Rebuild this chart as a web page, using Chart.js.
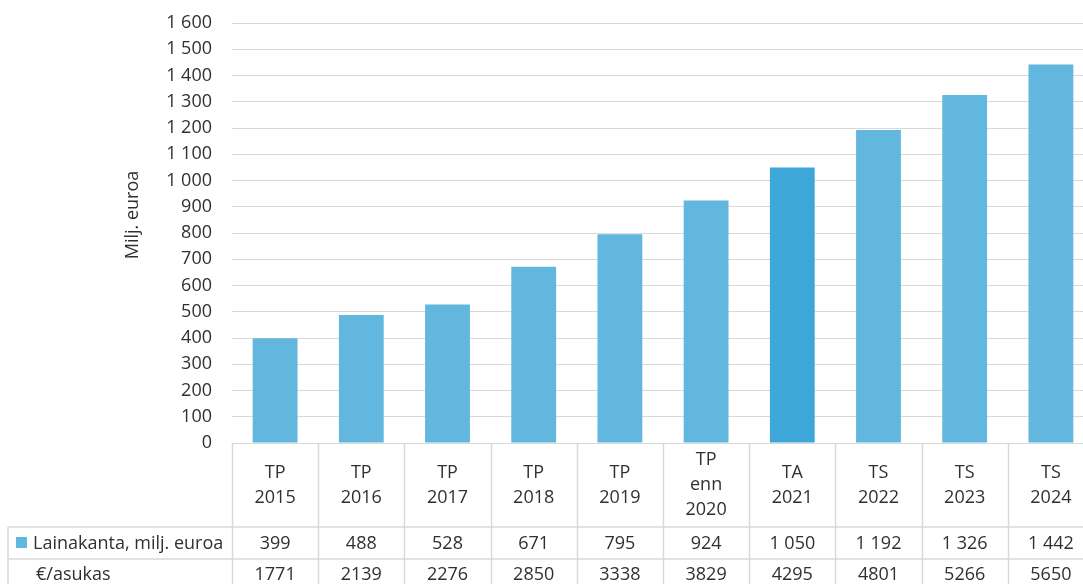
<!DOCTYPE html>
<html>
<head>
<meta charset="utf-8">
<script src="https://cdn.jsdelivr.net/npm/chart.js@4/dist/chart.umd.min.js"></script>
<style>
  html, body { margin: 0; padding: 0; overflow: hidden; background: #fff; }
  #wrap { width: 1100px; height: 584px; }
</style>
</head>
<body>
<div id="wrap"><canvas id="myChart" width="1100" height="584"></canvas></div>
<script>
const categories = [
  ['TP', '2015'], ['TP', '2016'], ['TP', '2017'], ['TP', '2018'], ['TP', '2019'],
  ['TP', 'enn', '2020'], ['TA', '2021'], ['TS', '2022'], ['TS', '2023'], ['TS', '2024']
];
const loanStock = [399, 488, 528, 671, 795, 924, 1050, 1192, 1326, 1442];
const perResident = [1771, 2139, 2276, 2850, 3338, 3829, 4295, 4801, 5266, 5650];
const seriesLabel = 'Lainakanta, milj. euroa';
const rowLabel2 = '€/asukas';
const axisTitle = 'Milj. euroa';
const highlightIndex = 6;

const barColor = '#61b7de';
const highlightColor = '#3ca7d8';
const lineColor = '#d9d9d9';
const textColor = '#303030';

const spaced = v => String(v).replace(/\B(?=(\d{3})+(?!\d))/g, ' ');

Chart.defaults.font.family = "'Open Sans', sans-serif";
Chart.defaults.font.size = 18;
Chart.defaults.color = textColor;

// table under the plot + rotated axis title
const tablePlugin = {
  id: 'dataTable',
  afterDraw(chart) {
    const { ctx, chartArea, scales: { x } } = chart;
    const top = chartArea.bottom;
    const headBottom = top + 84;
    const row1Bottom = headBottom + 32;
    const bottom = chart.height + 10;
    const step = x.getPixelForValue(1) - x.getPixelForValue(0);
    const tableLeft = 8;

    ctx.save();
    ctx.strokeStyle = lineColor;
    ctx.lineWidth = 1.5;
    ctx.beginPath();
    for (let i = 0; i <= categories.length; i++) {
      const px = Math.round(x.getPixelForValue(i) - step / 2) + 0.5;
      ctx.moveTo(px, top);
      ctx.lineTo(px, bottom);
    }
    ctx.moveTo(tableLeft, headBottom);
    ctx.lineTo(chart.width, headBottom);
    ctx.moveTo(tableLeft, row1Bottom);
    ctx.lineTo(chart.width, row1Bottom);
    ctx.moveTo(tableLeft, headBottom);
    ctx.lineTo(tableLeft, bottom);
    ctx.stroke();

    ctx.fillStyle = textColor;
    ctx.font = "18px 'Open Sans', sans-serif";
    ctx.textAlign = 'center';
    ctx.textBaseline = 'middle';
    const headMid = (top + headBottom) / 2;
    categories.forEach((lines, i) => {
      const cx = x.getPixelForValue(i);
      lines.forEach((t, j) => {
        ctx.fillText(t, cx, headMid + (j - (lines.length - 1) / 2) * 25);
      });
      ctx.fillText(spaced(loanStock[i]), cx, (headBottom + row1Bottom) / 2 + 1);
      ctx.fillText(String(perResident[i]), cx, row1Bottom + 16);
    });

    ctx.textAlign = 'left';
    ctx.fillStyle = barColor;
    ctx.fillRect(16, 537, 11, 11);
    ctx.fillStyle = textColor;
    ctx.fillText(seriesLabel, 33, (headBottom + row1Bottom) / 2 + 1);
    ctx.fillText(rowLabel2, 36, row1Bottom + 16);

    ctx.translate(133, 215);
    ctx.rotate(-Math.PI / 2);
    ctx.textAlign = 'center';
    ctx.fillText(axisTitle, 0, 0);
    ctx.restore();
  }
};

const config = {
  type: 'bar',
  data: {
    labels: categories,
    datasets: [{
      label: seriesLabel,
      data: loanStock,
      backgroundColor: loanStock.map((v, i) => i === highlightIndex ? highlightColor : barColor),
      barPercentage: 0.52,
      categoryPercentage: 1,
    }],
  },
  options: {
    responsive: false,
    animation: false,
    layout: { padding: { left: 0, right: 6, top: 23, bottom: 141 } },
    plugins: { legend: { display: false }, tooltip: { enabled: false } },
    scales: {
      x: { display: false },
      y: {
        min: 0,
        max: 1600,
        ticks: { stepSize: 100, padding: 0, callback: v => spaced(v) },
        grid: { color: lineColor, drawTicks: true, tickLength: 20, tickColor: 'rgba(0,0,0,0)' },
        border: { display: false },
        afterFit(scale) { scale.width = 232; },
      },
    },
  },
  plugins: [tablePlugin],
};

new Chart(document.getElementById('myChart'), config);
</script>
</body>
</html>
